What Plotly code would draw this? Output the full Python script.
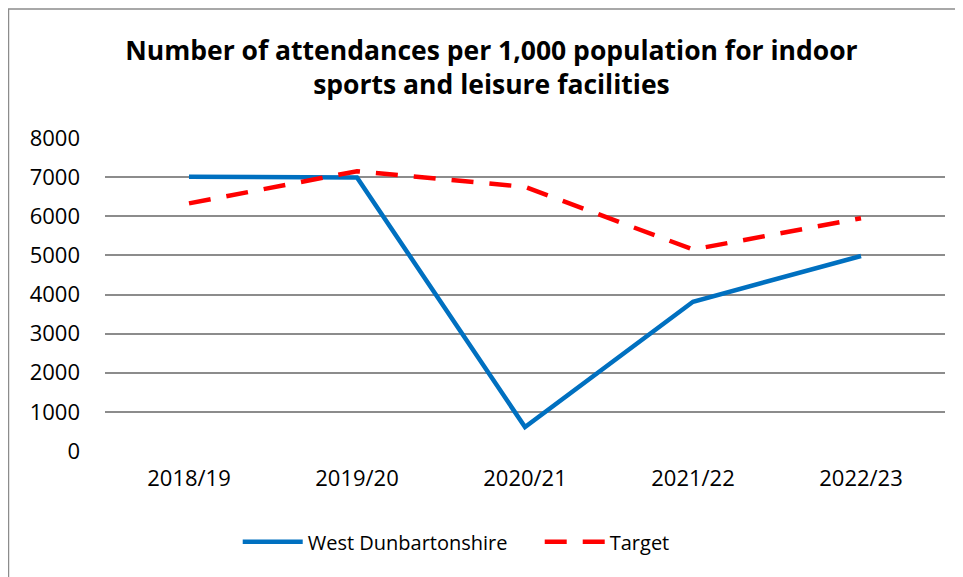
import plotly.graph_objects as go

years = ["2018/19", "2019/20", "2020/21", "2021/22", "2022/23"]
west_dunbartonshire = [7010, 6990, 610, 3815, 4985]
target = [6330, 7150, 6750, 5150, 5950]
y_ticks = [0, 1000, 2000, 3000, 4000, 5000, 6000, 7000, 8000]

FONT = "Open Sans"

fig = go.Figure()
fig.add_trace(go.Scatter(
    x=years, y=west_dunbartonshire, mode="lines", name="West Dunbartonshire",
    line=dict(color="#0070C0", width=4.5),
))
fig.add_trace(go.Scatter(
    x=years, y=target, mode="lines", name="Target",
    line=dict(color="#FF0000", width=4.5, dash="22px,16px"),
))

fig.update_layout(
    width=963, height=577,
    margin=dict(l=97, r=26, t=130, b=134, autoexpand=False),
    paper_bgcolor="white", plot_bgcolor="white",
    font=dict(family=FONT, size=22, color="black"),
    title=dict(
        text="<b>Number of attendances per 1,000 population for indoor<br>sports and leisure facilities</b>",
        x=0.502, xanchor="center", y=0.91, yanchor="middle",
        font=dict(family=FONT, size=26.5, color="black"),
    ),
    xaxis=dict(
        type="category", range=[-0.5, 4.5],
        showgrid=False, showline=False, ticks="", zeroline=False,
        tickfont=dict(size=22), ticklabelstandoff=12, automargin=False,
    ),
    yaxis=dict(
        range=[0, 8000], tickvals=y_ticks, showgrid=True,
        gridcolor="#8C8C8C", gridwidth=1.5, zeroline=False, showline=False,
        ticks="", ticklabelstandoff=24, tickfont=dict(size=22), automargin=False,
    ),
    legend=dict(
        orientation="h", x=0.158, xanchor="left", y=-0.29, yanchor="middle",
        font=dict(size=20), itemwidth=60, entrywidth=227,
    ),
    showlegend=True,
)

fig.add_shape(
    type="rect", xref="paper", yref="paper",
    x0=-0.1149, x1=1.1, y0=-0.6, y1=1.412,
    line=dict(color="#8C8C8C", width=1.5), fillcolor="rgba(0,0,0,0)", layer="below",
)

fig.write_html("out.html")
